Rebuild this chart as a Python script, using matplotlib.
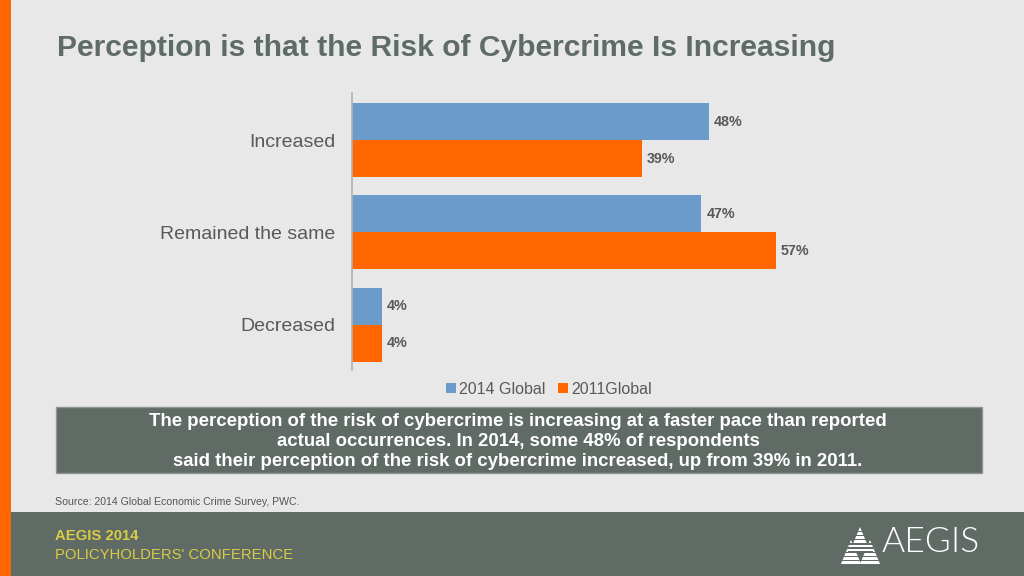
import matplotlib.pyplot as plt
import matplotlib.patches as mpatches
import numpy as np

categories = ["Increased", "Remained the same", "Decreased"]
values_2014 = [48, 47, 4]
values_2011 = [39, 57, 4]
series_names = ["2014 Global", "2011Global"]

W, H = 1024, 576
bg = "#E8E8E8"
blue = "#6A9BCB"
orange = "#FF6600"
slate = "#5F6B64"
textgray = "#595959"
yellow = "#D9CC45"

plt.rcParams['font.family'] = ['Liberation Sans', 'DejaVu Sans']

fig = plt.figure(figsize=(W / 100, H / 100), dpi=100)
fig.patch.set_facecolor(bg)


def fx(x):
    return x / W


def fy(y):
    return 1 - y / H


# footer band and orange strip
fig.add_artist(mpatches.Rectangle((0, 0), 1, fy(512), transform=fig.transFigure,
                                  facecolor=slate, edgecolor="none", zorder=0))
fig.add_artist(mpatches.Rectangle((0, 0), fx(11), 1, transform=fig.transFigure,
                                  facecolor=orange, edgecolor="none", zorder=1))

# title
fig.text(fx(57), fy(48), "Perception is that the Risk of Cybercrime Is Increasing",
         fontsize=21.6, fontweight="bold", color="#5E6B66", va="center", ha="left")

# chart
ax = fig.add_axes([fx(352), fy(370), fx(798 - 352), (370 - 93) / H])
ax.set_facecolor("none")
y = np.arange(len(categories))
h = 0.4
b1 = ax.barh(y - h / 2, values_2014, height=h, color=blue, label=series_names[0])
b2 = ax.barh(y + h / 2, values_2011, height=h, color=orange, label=series_names[1])
ax.set_xlim(0, 60)
ax.set_ylim(2.49, -0.51)
for bars in (b1, b2):
    for r in bars:
        ax.text(r.get_width() + 0.7, r.get_y() + r.get_height() / 2,
                f"{int(r.get_width())}%", va="center", ha="left",
                fontsize=10.3, fontweight="bold", color=textgray)
ax.set_yticks(y)
ax.set_yticklabels(categories, fontsize=14, color=textgray)
ax.tick_params(axis="y", length=0, pad=12)
ax.set_xticks([])
for s in ("top", "right", "bottom"):
    ax.spines[s].set_visible(False)
ax.spines["left"].set_color("#B0B0B0")
ax.spines["left"].set_linewidth(1.2)

leg = fig.legend(handles=[b1, b2], labels=series_names, loc="center",
                 bbox_to_anchor=(fx(549), fy(389)), ncol=2, frameon=False,
                 fontsize=11.5, handlelength=0.6, handleheight=0.6,
                 handletextpad=0.2, columnspacing=0.8)
for t in leg.get_texts():
    t.set_color(textgray)

# summary box
fig.add_artist(mpatches.Rectangle((fx(56), fy(473)), fx(982 - 56), (473 - 407) / H,
                                  transform=fig.transFigure, facecolor=slate,
                                  edgecolor="#8E9892", linewidth=1, zorder=1))
box_lines = [
    "The perception of the risk of cybercrime is increasing at a faster pace than reported",
    "actual occurrences. In 2014, some 48% of respondents",
    "said their perception of the risk of cybercrime increased, up from 39% in 2011.",
]
for i, line in enumerate(box_lines):
    fig.text(fx(518), fy(421 + 20 * i), line, ha="center", va="center",
             fontsize=13.4, fontweight="bold", color="white", zorder=2)

fig.text(fx(55), fy(502), "Source: 2014 Global Economic Crime Survey, PWC.",
         fontsize=7.6, color="#555555", va="center")

# footer text
fig.text(fx(55), fy(536), "AEGIS 2014", fontsize=10.7, fontweight="bold",
         color=yellow, va="center")
fig.text(fx(55), fy(555), "POLICYHOLDERS' CONFERENCE", fontsize=10.7,
         color=yellow, va="center")

# logo wordmark
fig.text(fx(882), fy(552), "AEGIS", fontsize=25.5, color="white", va="baseline",
         ha="left", family=["Lato", "Liberation Sans"], fontweight=300)

# logo triangles
for (cx, top, bot) in [(860, 527, 552), (851, 540, 565), (870, 540, 565)]:
    half = (bot - top) * 0.42
    tri = mpatches.Polygon([(fx(cx), fy(top)), (fx(cx - half), fy(bot)),
                            (fx(cx + half), fy(bot))], closed=True,
                           transform=fig.transFigure, facecolor="white",
                           edgecolor="none", zorder=3)
    fig.add_artist(tri)
    for yy in np.arange(top + 4, bot, 4):
        fig.add_artist(mpatches.Rectangle((fx(cx - half - 2), fy(yy + 1)), fx(2 * half + 4),
                                          1.2 / H, transform=fig.transFigure,
                                          facecolor=slate, edgecolor="none", zorder=4))

fig.savefig("out.png", dpi=100, facecolor=fig.get_facecolor())
